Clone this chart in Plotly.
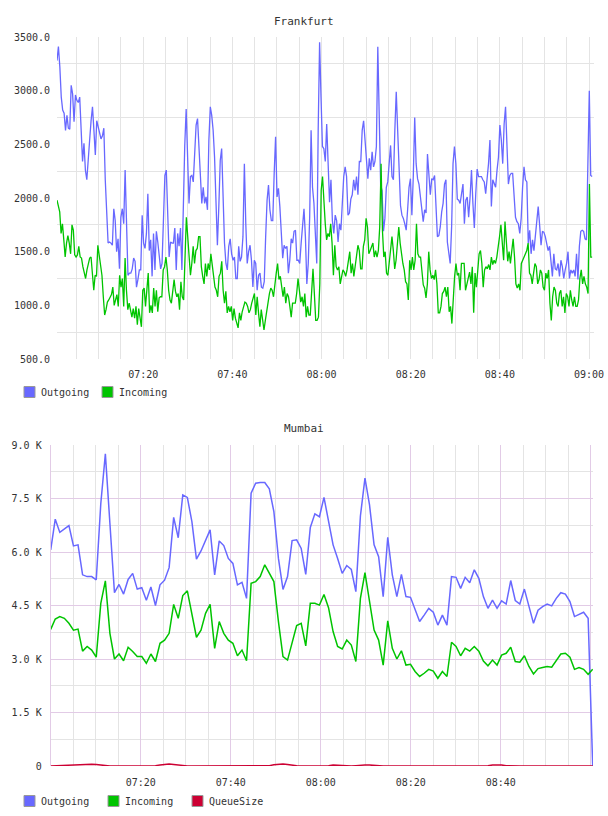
import pandas as pd
import plotly.graph_objects as go

W, H = 608, 816
DAY = "2024-05-14 "

# ---------------- Frankfurt data ----------------
FRA_START, FRA_END = DAY + "07:00:40", DAY + "09:00:42"
FRA_RANGE = [DAY + "07:00:40", DAY + "09:01:07"]

fra_outgoing = [
    3280, 3410, 3220, 2940, 2820, 2790, 2630, 2770, 2650, 2640, 3050, 2970, 2710, 2960, 2910, 2890, 2940, 2630,
    2340, 2510, 2260, 2170, 2320, 2540, 2720, 2850, 2630, 2400, 2720, 2660, 2620, 2550, 2580, 2650, 2170, 1890,
    1580, 1590, 1580, 1560, 1900, 1790, 1500, 1620, 1340, 1820, 1900, 1760, 2260, 1760, 1280, 1300, 1300, 1340,
    1440, 1410, 1170, 1240, 1330, 1330, 1840, 1580, 1530, 1670, 2040, 1510, 1610, 1270, 1670, 1330, 1690, 1590,
    1470, 1340, 1390, 1760, 2210, 2260, 1890, 1450, 1590, 1580, 1580, 1720, 1330, 1670, 1550, 1720, 1330, 2090,
    2490, 2830, 2410, 1950, 2200, 2210, 2150, 2380, 2680, 2740, 2440, 2200, 1950, 2100, 1950, 2010, 1890, 2540,
    2850, 2770, 2630, 2380, 1980, 1560, 1920, 2350, 2460, 2040, 1580, 1390, 1330, 1550, 1620, 1480, 1420, 1450,
    1250, 1250, 1550, 1410, 1450, 1640, 2320, 1760, 1390, 1500, 1560, 1420, 1170, 1420, 1390, 1140, 1280, 1300,
    1170, 1160, 1220, 1640, 1980, 2120, 1890, 1790, 1790, 2230, 2570, 2010, 2090, 1920, 1700, 1440, 1560, 1530,
    1550, 1300, 1420, 1620, 1580, 1690, 1700, 1420, 1420, 1390, 1580, 1760, 1900, 1640, 1200, 1390, 1820, 2630,
    2100, 1950, 1610, 1390, 2630, 3450,
    2940, 2480, 2460, 2340, 2690, 2290, 1960, 2170, 1790, 1670, 1840, 1790, 1590, 1760, 1700, 1950, 2200, 2290,
    2200, 1840, 1860, 1990, 2030, 2170, 2070, 2200, 2030, 2340, 2340, 2630, 2720, 2540, 2320, 2180, 2370, 2260,
    2430, 2290, 2340, 2480, 3410, 2790, 2120, 2070, 1690, 1810, 2100, 2150, 2320, 2490, 2200, 2170, 2630, 2990,
    2630, 2260, 1930, 1840, 1810, 1760, 1700, 1890, 2100, 2180, 1840, 2200, 2750, 2320, 2180, 2130, 1990, 1870,
    1780, 1890, 1860, 2410, 2240, 2030, 2180, 2170, 2210, 1950, 1640, 1650, 1730, 1870, 1950, 2130, 2170, 1590,
    1480, 1390, 1730, 2320, 2480, 2320, 1990, 1980, 1950, 2060, 2130, 1760, 1980, 2010, 1820, 2010, 2260, 1950,
    1720, 2040, 2270, 2200, 2200, 2200, 2170, 2150, 2040, 2170, 2320, 2540, 1920, 2170, 2130, 2100, 2260, 2380,
    2680, 2540, 2320, 2690, 2850, 2540, 2130, 2210, 2230, 2230, 1990, 1820, 1780, 1760, 1670, 1810, 2100, 2290,
    2170, 2150, 1580, 1700, 1480, 1610, 1510, 1640, 1760, 1920, 1750, 1560, 1690, 1680, 1640, 1580, 1510, 1550,
    1390, 1270, 1480, 1340, 1330, 1390, 1270, 1420, 1360, 1250, 1330, 1390, 1500, 1250, 1330, 1300, 1330, 1270,
    1480, 1240, 1550, 1690, 1700, 1690, 1620, 1610, 2320, 3000, 2210, 2200,
]

fra_incoming = [
    1980, 1920, 1870, 1670, 1760, 1610, 1450, 1580, 1650, 1580, 1480, 1750, 1700, 1470, 1450, 1470, 1550, 1450,
    1440, 1360, 1300, 1250, 1330, 1390, 1440, 1450, 1310, 1140, 1280, 1270, 1560, 1450, 1330, 1280, 1080, 910,
    960, 1030, 1050, 1080, 1100, 1170, 1000, 1050, 1100, 990, 1280, 1170, 1250, 990, 1440, 1140, 960, 1020,
    940, 890, 970, 880, 990, 820, 970, 860, 800, 1140, 1160, 990, 1130, 1300, 930, 1000, 930, 1160,
    990, 1140, 940, 1070, 1080, 1080, 1330, 1360, 1450, 1330, 1140, 1050, 1020, 1110, 1240, 1130, 1080, 1110,
    960, 1220, 1080, 1050, 1390, 1820, 1640, 1450, 1280, 1390, 1550, 1390, 1510, 1530, 1640, 1640, 1360, 1270,
    1200, 1390, 1270, 1390, 1330, 1480, 1360, 1240, 1170, 1140, 1080, 1270, 1300, 1410, 1140, 1020, 1130, 930,
    990, 940, 990, 860, 970, 880, 830, 790, 930, 860, 940, 990, 1030, 1020, 990, 930, 960, 1020,
    1080, 1110, 910, 1080, 930, 800, 960, 850, 770, 860, 960, 1030, 1110, 1160, 1140, 1080, 1220, 1300,
    1390, 1240, 1270, 1140, 1080, 1170, 1020, 1110, 1080, 990, 890, 1020, 1020, 1020, 1110, 1250, 1140, 1030,
    1080, 990, 1110, 890, 990, 910, 910, 1080, 1340, 1110, 860, 860, 890, 1200, 2070, 2200,
    1950, 1760, 1610, 1670, 1640, 1760, 1580, 1280, 1560, 1360, 1330, 1360, 1200, 1270, 1330, 1310, 1270, 1330,
    1420, 1500, 1300, 1390, 1270, 1360, 1450, 1560, 1510, 1340, 1340, 1550, 1610, 1810, 1730, 1480, 1510, 1550,
    1580, 1450, 1510, 1450, 1510, 1730, 2320, 1700, 1450, 1500, 1300, 1280, 1420, 1500, 1640, 1510, 1340, 1420,
    1620, 1730, 1580, 1450, 1390, 1330, 1220, 1200, 1050, 1420, 1330, 1450, 1330, 1420, 1760, 1480, 1450, 1450,
    1280, 1190, 1160, 1070, 1200, 1500, 1330, 1250, 1280, 1240, 1330, 1200, 930, 930, 990, 1110, 1130, 1170,
    1080, 1170, 940, 990, 830, 1080, 1270, 1390, 1280, 1300, 1140, 1390, 1390, 1390, 1140, 1200, 1250, 1310,
    1200, 1360, 930, 1300, 1170, 1360, 1480, 1510, 1390, 1170, 1330, 1360, 1340, 1380, 1330, 1450, 1380, 1420,
    1390, 1450, 1580, 1640, 1750, 1580, 1420, 1780, 1580, 1410, 1500, 1390, 1510, 1620, 1450, 1200, 1160, 1200,
    1140, 1390, 1420, 1450, 1480, 1510, 1580, 1300, 1280, 1200, 1300, 1390, 1360, 1200, 1240, 1330, 1300, 1170,
    1140, 1300, 1250, 1330, 1020, 860, 1080, 1170, 1140, 1020, 990, 1110, 1140, 990, 1080, 930, 1110, 1080,
    990, 1140, 1050, 990, 1080, 990, 990, 1050, 1250, 1330, 1200, 1270, 1200, 1170, 1110, 2130, 1450, 1450,
]

fra_yticks = [500, 1000, 1500, 2000, 2500, 3000, 3500]
fra_yticklabels = ["500.0", "1000.0", "1500.0", "2000.0", "2500.0", "3000.0", "3500.0"]
fra_ygrid = [750, 1250, 1750, 2250, 2750, 3250]
fra_xticks = ["07:20", "07:40", "08:00", "08:20", "08:40", "09:00"]

# ---------------- Mumbai data ----------------
MUM_START, MUM_END = DAY + "07:00:00", DAY + "09:00:26"
MUM_RANGE = [DAY + "07:00:00", DAY + "09:00:30"]

mum_outgoing = [
    6060, 6920, 6550, 6640, 6740, 6170, 6200, 5360, 5310, 5310, 5220, 7360, 8750, 6800, 4860, 5090, 4820, 5230,
    5400, 4960, 5000, 4650, 5020, 4500, 5080, 5210, 5560, 6970, 6400, 7600, 7530, 6850, 5800, 6030, 6340, 6620,
    5360, 6310, 6180, 5820, 5680, 5080, 5150, 4700, 7650, 7930, 7950, 7950, 7770, 7130, 5820, 4950, 5310, 6320,
    6340, 6100, 5370, 6690, 7070, 6990, 7530,
    6900, 6200, 5820, 5400, 5620, 5510, 4890, 7010, 8070, 7320, 6200, 5870, 4750, 6410, 5360, 4750, 5370, 4750,
    4730, 4370, 4050, 4230, 4420, 4310, 3950, 4230, 3950, 5310, 5290, 4980, 5290, 5140, 5500, 5260, 4750, 4420,
    4650, 4420, 4630, 4540, 5200, 4640, 4540, 4960, 4470, 4000, 4370, 4470, 4540, 4490, 4700, 4860, 4820, 4610,
    4190, 4260, 4310, 4140, 0,
]
mum_incoming = [
    3830, 4120, 4190, 4140, 4000, 3810, 3840, 3220, 3350, 3250, 3050, 4560, 5190, 3720, 3000, 3140, 2950, 3330,
    3210, 3070, 3070, 2880, 3140, 2930, 3440, 3530, 3720, 4530, 4140, 4780, 4910, 4280, 3610, 3810, 4280, 4530,
    3300, 4050, 3720, 3530, 3440, 3090, 3250, 2950, 5120, 5170, 5310, 5640, 5400, 5170, 4050, 3070, 2970, 3440,
    3940, 4000, 3370, 4560, 4560, 4510, 4810,
    4440, 3770, 3350, 3280, 3530, 3390, 2930, 4700, 5420, 4560, 3810, 3530, 2830, 4070, 3300, 3000, 3230, 2830,
    2850, 2650, 2510, 2600, 2710, 2660, 2460, 2650, 2510, 3470, 3350, 3090, 3300, 3220, 3350, 3220, 2940, 2810,
    2970, 2830, 3110, 3160, 3330, 2930, 2910, 3090, 2790, 2580, 2730, 2760, 2790, 2770, 2970, 3140, 3160, 3050,
    2710, 2760, 2710, 2570, 2710,
]
mum_queue = [
    0, 5, 15, 30, 40, 45, 50, 50, 45, 50, 40, 20, 5, 0, 0, 0, 0, 0, 0, 0, 0, 0, 0, 10, 30, 50, 55, 45, 25, 10,
    0, 0, 0, 0, 0, 0, 0, 0, 0, 0, 0, 0, 0, 0, 0, 0, 0, 0, 10, 35, 50, 55, 45, 20, 5, 0, 0, 0, 0, 0,
    0, 10, 25, 15, 5, 0, 0, 10, 25, 30, 25, 10, 0, 0, 0, 0, 0, 0, 0, 0, 10, 20, 15, 5, 0, 0, 0, 0, 0, 0,
    0, 0, 0, 0, 0, 0, 10, 25, 30, 25, 10, 0, 0, 0, 0, 0, 0, 0, 0, 0, 0, 0, 0, 0, 0, 0, 0, 0, 0, 0,
]
mum_yticks = [0, 1500, 3000, 4500, 6000, 7500, 9000]
mum_yticklabels = ["0", "1.5 K", "3.0 K", "4.5 K", "6.0 K", "7.5 K", "9.0 K"]
mum_xticks = ["07:00", "07:20", "07:40", "08:00", "08:20", "08:40", "09:00"]
mum_xticklabels = ["", "07:20", "07:40", "08:00", "08:20", "08:40", ""]

series_names = ["Outgoing", "Incoming", "QueueSize"]
colors = {"Outgoing": "#6868ff", "Incoming": "#00c400", "QueueSize": "#cc0033"}

# ---------------- helpers ----------------
FONT = "DejaVu Sans Mono"
TXT = "#333333"
GRAY = "#e4e4e4"
PURPLE = "#e2cbe6"


def px(x):
    return x / W


def py(y):
    return 1 - y / H


fig = go.Figure()

# Frankfurt traces
for name, vals in (("Outgoing", fra_outgoing), ("Incoming", fra_incoming)):
    t = pd.date_range(FRA_START, FRA_END, periods=len(vals))
    fig.add_trace(go.Scatter(x=t, y=vals, mode="lines", name=name, showlegend=False,
                             line=dict(color=colors[name], width=1.3), xaxis="x", yaxis="y"))

# Mumbai traces
for name, vals in (("Outgoing", mum_outgoing), ("Incoming", mum_incoming), ("QueueSize", mum_queue)):
    t = pd.date_range(MUM_START, MUM_END, periods=len(vals))
    fig.add_trace(go.Scatter(x=t, y=vals, mode="lines", name=name, showlegend=False,
                             line=dict(color=colors[name], width=1.5), xaxis="x2", yaxis="y2"))

tickfont = dict(family=FONT, size=10, color=TXT)

fig.update_layout(
    width=W, height=H, autosize=False,
    margin=dict(l=0, r=0, t=0, b=0, pad=0, autoexpand=False),
    paper_bgcolor="white", plot_bgcolor="white",
    showlegend=False,
    xaxis=dict(
        domain=[px(57), px(594)], anchor="y", type="date", range=FRA_RANGE, automargin=False,
        tickmode="array", tickvals=[DAY + t for t in fra_xticks], ticktext=fra_xticks,
        showgrid=True, gridcolor=GRAY, gridwidth=1, zeroline=False, showline=False, ticks="",
        tickfont=tickfont, ticklabelstandoff=8,
        minor=dict(tickmode="linear", tick0=DAY + "07:00", dtick=5 * 60 * 1000, showgrid=True,
                   gridcolor=GRAY, gridwidth=1, ticks=""),
    ),
    yaxis=dict(
        domain=[py(359), py(37)], anchor="x", range=[500, 3500], automargin=False,
        tickmode="array", tickvals=fra_yticks, ticktext=fra_yticklabels,
        showgrid=False, zeroline=False, showline=False, ticks="",
        tickfont=tickfont, ticklabelstandoff=6,
        minor=dict(tickmode="array", tickvals=fra_ygrid, showgrid=True, gridcolor=GRAY, gridwidth=1, ticks=""),
    ),
    xaxis2=dict(
        domain=[px(50.7), px(593)], anchor="y2", type="date", range=MUM_RANGE, automargin=False,
        tickmode="array", tickvals=[DAY + t for t in mum_xticks], ticktext=mum_xticklabels,
        showgrid=True, gridcolor=PURPLE, gridwidth=1, zeroline=False, showline=False, ticks="",
        tickfont=tickfont, ticklabelstandoff=9,
        minor=dict(tickmode="linear", tick0=DAY + "07:00", dtick=5 * 60 * 1000, showgrid=True,
                   gridcolor=GRAY, gridwidth=1, ticks=""),
    ),
    yaxis2=dict(
        domain=[py(766), py(445)], anchor="x2", range=[0, 9000], automargin=False,
        tickmode="array", tickvals=mum_yticks, ticktext=mum_yticklabels,
        showgrid=True, gridcolor=PURPLE, gridwidth=1, zeroline=False,
        showline=True, linecolor=PURPLE, linewidth=1, ticks="",
        tickfont=tickfont, ticklabelstandoff=6,
        minor=dict(tickmode="linear", tick0=750, dtick=1500, showgrid=True, gridcolor=GRAY, gridwidth=1, ticks=""),
    ),
)

# Titles
titles = [("Frankfurt", 21), ("Mumbai", 428)]
for text, y in titles:
    fig.add_annotation(text=text, xref="paper", yref="paper", x=0.5, y=py(y), xanchor="center",
                       yanchor="middle", showarrow=False, font=dict(family=FONT, size=11, color=TXT))

# Hand-drawn legends (square swatches like the original)
legends = [
    (["Outgoing", "Incoming"], 392, 78),
    (["Outgoing", "Incoming", "QueueSize"], 801, 84),
]
for names, yc, step in legends:
    for i, name in enumerate(names):
        x0 = 24 + i * step
        fig.add_shape(type="rect", xref="paper", yref="paper",
                      x0=px(x0), x1=px(x0 + 11), y0=py(yc + 5.5), y1=py(yc - 5.5),
                      fillcolor=colors[name], line=dict(color="#999999", width=1))
        fig.add_annotation(text=name, xref="paper", yref="paper", x=px(x0 + 15), y=py(yc),
                           xanchor="left", yanchor="middle", showarrow=False,
                           font=dict(family=FONT, size=10, color=TXT))

fig.write_html("out.html")
